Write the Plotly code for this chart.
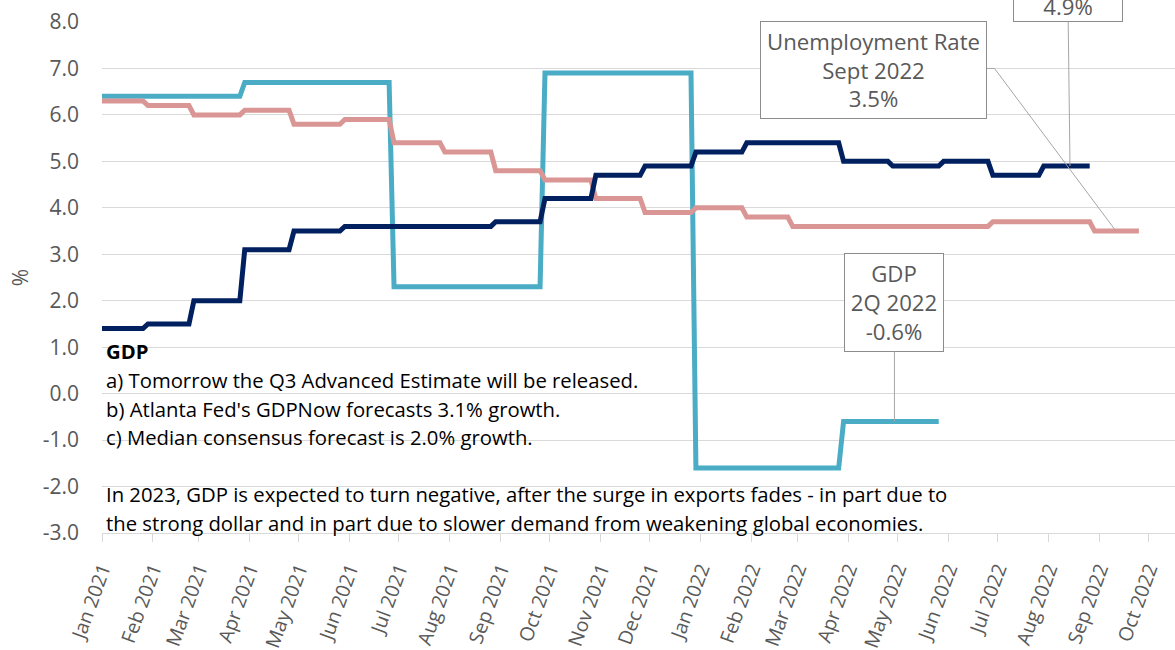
import pandas as pd
import plotly.graph_objects as go

# ---------------- data ----------------
months = pd.date_range("2021-01-01", "2022-10-01", freq="MS")
tick_labels = [m.strftime("%b %Y") for m in months]
y_ticks = [-3, -2, -1, 0, 1, 2, 3, 4, 5, 6, 7, 8]
y_tick_labels = ["-3.0", "-2.0", "-1.0", "0.0", "1.0", "2.0", "3.0",
                 "4.0", "5.0", "6.0", "7.0", "8.0"]

# monthly levels (starting Jan 2021)
gdp = [6.4, 6.4, 6.4, 6.7, 6.7, 6.7, 2.3, 2.3, 2.3, 6.9, 6.9, 6.9,
       -1.6, -1.6, -1.6, -0.6, -0.6]
unemployment = [6.3, 6.2, 6.0, 6.1, 5.8, 5.9, 5.4, 5.2, 4.8, 4.6, 4.2, 3.9,
                4.0, 3.8, 3.6, 3.6, 3.6, 3.6, 3.7, 3.7, 3.5]
core_pce = [1.4, 1.5, 2.0, 3.1, 3.5, 3.6, 3.6, 3.6, 3.7, 4.2, 4.7, 4.9,
            5.2, 5.4, 5.4, 5.0, 4.9, 5.0, 4.7, 4.9]

# ---------------- style ----------------
FONT = "Open Sans"
GREY_TXT = "#595959"
GRID = "#d9d9d9"
C_GDP = "#4bacc6"
C_UNEMP = "#da9694"
C_PCE = "#002060"
LW = 5
STEP_BEFORE = pd.Timedelta(days=6)
STEP_AFTER = pd.Timedelta(days=3)


def step_points(values):
    xs, ys = [], []
    for i, v in enumerate(values):
        xs += [months[i] - STEP_AFTER, months[i + 1] - STEP_BEFORE]
        ys += [v, v]
    return xs, ys


fig = go.Figure()
for vals, color, name in [(gdp, C_GDP, "GDP"),
                          (unemployment, C_UNEMP, "Unemployment Rate"),
                          (core_pce, C_PCE, "Core PCE")]:
    x, y = step_points(vals)
    fig.add_trace(go.Scatter(x=x, y=y, mode="lines", name=name,
                             line=dict(color=color, width=LW),
                             hoverinfo="skip"))

annotations = []

# explanatory text block
text_lines = [
    ("<b>GDP</b>", 0.92),
    ("a) Tomorrow the Q3 Advanced Estimate will be released.", 0.30),
    ("b) Atlanta Fed's GDPNow forecasts 3.1% growth.", -0.33),
    ("c) Median consensus forecast is 2.0% growth.", -0.94),
    ("In 2023, GDP is expected to turn negative, after the surge in exports fades - in part due to", -2.17),
    ("the strong dollar and in part due to slower demand from weakening global economies.", -2.78),
]
for t, yv in text_lines:
    annotations.append(dict(text=t, xref="paper", yref="y", x=0.002, y=yv,
                            xanchor="left", yanchor="middle", showarrow=False,
                            font=dict(family=FONT, size=20.3, color="#000000")))

BOX_FONT = dict(family=FONT, size=22.2, color=GREY_TXT)
box_common = dict(showarrow=True, arrowhead=0, arrowwidth=1, arrowcolor="#a6a6a6",
                  standoff=0, bordercolor="#8c8c8c", borderwidth=1, bgcolor="white",
                  borderpad=0, font=BOX_FONT,
                  align="center", valign="middle", axref="pixel", ayref="pixel")

# GDP callout
annotations.append(dict(text="GDP<br>2Q 2022<br>-0.6%", x="2022-04-29", y=gdp[-1],
                        ax=0, ay=-119, width=98, height=97, **box_common))
# Core PCE callout (box top is outside the picture)
annotations.append(dict(text="4.9%", x="2022-08-14", y=core_pce[-1],
                        ax=-2, ay=-160, width=108, height=30, **box_common))
# Unemployment callout box (connector drawn with shapes)
annotations.append(dict(text="Unemployment Rate<br>Sept 2022<br>3.5%",
                        x="2022-04-16", y=6.96, xref="x", yref="y",
                        showarrow=False, width=225, height=96,
                        bordercolor="#8c8c8c", borderwidth=1, bgcolor="white",
                        borderpad=0, font=BOX_FONT,
                        align="center", valign="middle"))

shapes = [
    dict(type="line", xref="x", yref="y", x0="2022-06-24", y0=7.0,
         x1="2022-06-29", y1=7.0, line=dict(color="#a6a6a6", width=1)),
    dict(type="line", xref="x", yref="y", x0="2022-06-29", y0=7.0,
         x1="2022-09-11", y1=unemployment[-1], line=dict(color="#a6a6a6", width=1)),
]

fig.update_layout(
    width=1175, height=650,
    margin=dict(l=102, r=0, t=22, b=117, autoexpand=False),
    paper_bgcolor="white", plot_bgcolor="white",
    showlegend=False,
    annotations=annotations,
    shapes=shapes,
    font=dict(family=FONT, color=GREY_TXT),
    xaxis=dict(type="date", range=["2021-01-01", "2022-10-17"],
               tickvals=list(months), ticktext=tick_labels, tickangle=-70,
               ticks="outside", ticklen=8, tickcolor=GRID, tickwidth=1,
               showline=True, linecolor=GRID, linewidth=1, showgrid=False,
               zeroline=False, ticklabelstandoff=8, automargin=False,
               tickfont=dict(family=FONT, size=19.5, color=GREY_TXT)),
    yaxis=dict(range=[-3, 8], tickvals=y_ticks, ticktext=y_tick_labels,
               showgrid=True, gridcolor=GRID, gridwidth=1, zeroline=False,
               showline=False, ticks="", ticklabelstandoff=22, automargin=False,
               tickfont=dict(family=FONT, size=21, color=GREY_TXT)),
    yaxis_title=dict(text="%", standoff=8,
                     font=dict(family=FONT, size=21, color=GREY_TXT)),
)

fig.write_html("out.html",
               config={"displayModeBar": False},
               post_script="document.body.style.margin='0';"
                           "document.body.style.overflow='hidden';")
